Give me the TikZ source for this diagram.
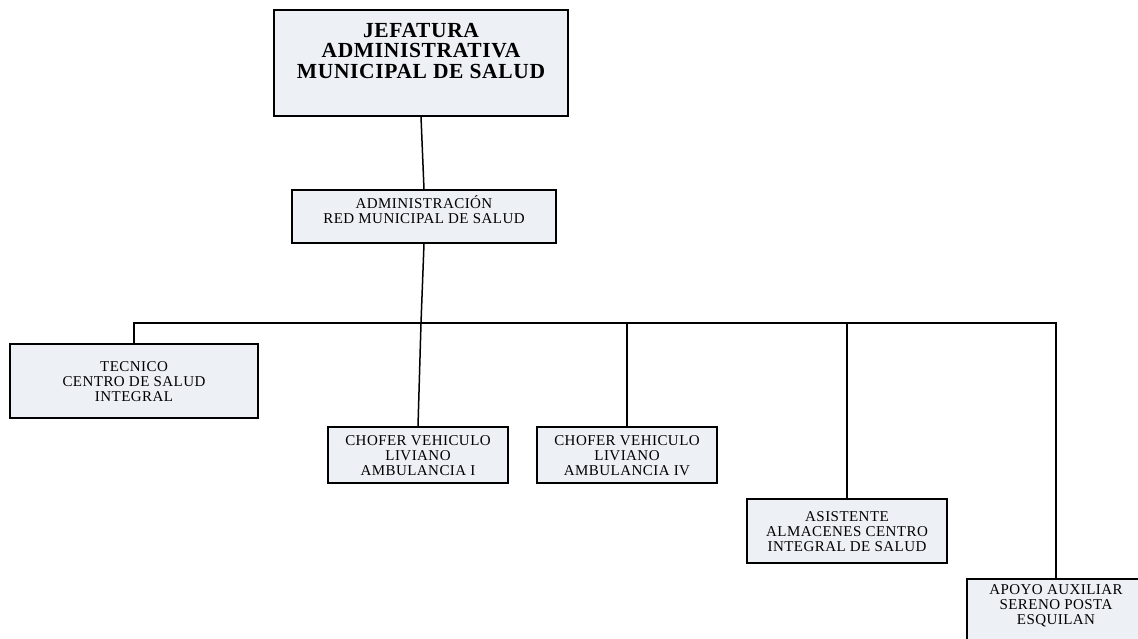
\documentclass[tikz,border=0pt]{standalone}
\usepackage{fontspec}
\setmainfont{Liberation Serif}
\newfontfamily\boxfont[LetterSpace=3]{Liberation Serif}
\newfontfamily\headfont[LetterSpace=3]{Liberation Serif}
\definecolor{boxfill}{HTML}{EDF0F5}
\begin{document}
\begin{tikzpicture}[x=1pt,y=-1pt,
  box/.style={draw=black,fill=boxfill,line width=1.5pt,inner sep=0pt,rectangle},
  txt/.style={align=center,inner sep=0pt,font=\boxfont\fontsize{15}{15}\selectfont},
  headtxt/.style={align=center,inner sep=0pt,font=\headfont\bfseries\fontsize{21.5}{20.5}\selectfont},
  conn/.style={line width=1.5pt}]
\useasboundingbox (0,0) rectangle (1138,639);
\clip (0,0) rectangle (1138,639);
% boxes
\node[box,minimum width=294pt,minimum height=106pt] (top) at (421,63) {};
\node[box,minimum width=264pt,minimum height=53pt] (admin) at (424,216.5) {};
\node[box,minimum width=248pt,minimum height=74pt] (tec) at (134,381) {};
\node[box,minimum width=180pt,minimum height=56pt] (ch1) at (418,455) {};
\node[box,minimum width=180pt,minimum height=56pt] (ch4) at (627,455) {};
\node[box,minimum width=200pt,minimum height=64pt] (asi) at (847,531) {};
\node[box,minimum width=178pt,minimum height=81pt] (apo) at (1056,619.5) {};
% texts
\node[headtxt] (topt) at (421,51) {JEFATURA\\ADMINISTRATIVA\\MUNICIPAL DE SALUD};
\node[txt] (admint) at (424,210) {ADMINISTRACIÓN\\RED MUNICIPAL DE SALUD};
\node[txt] (tect) at (134,382) {TECNICO\\CENTRO DE SALUD\\INTEGRAL};
\node[txt] (ch1t) at (418,456) {CHOFER VEHICULO\\LIVIANO\\AMBULANCIA I};
\node[txt] (ch4t) at (627,456) {CHOFER VEHICULO\\LIVIANO\\AMBULANCIA IV};
\node[txt] (asit) at (847,532) {ASISTENTE\\ALMACENES CENTRO\\INTEGRAL DE SALUD};
\node[txt] (apot) at (1056,606) {APOYO AUXILIAR\\SERENO POSTA\\ESQUILAN};
% connectors
\coordinate (bus) at (421,323);
\draw[conn] (top.south) -- (admin.north);
\draw[conn] (admin.south) -- (bus) -- (ch1.north);
\draw[conn] (tec.north) |- (bus) -| (apo.north);
\draw[conn] (ch4.north) -- (ch4.north |- bus);
\draw[conn] (asi.north) -- (asi.north |- bus);
\end{tikzpicture}
\end{document}
